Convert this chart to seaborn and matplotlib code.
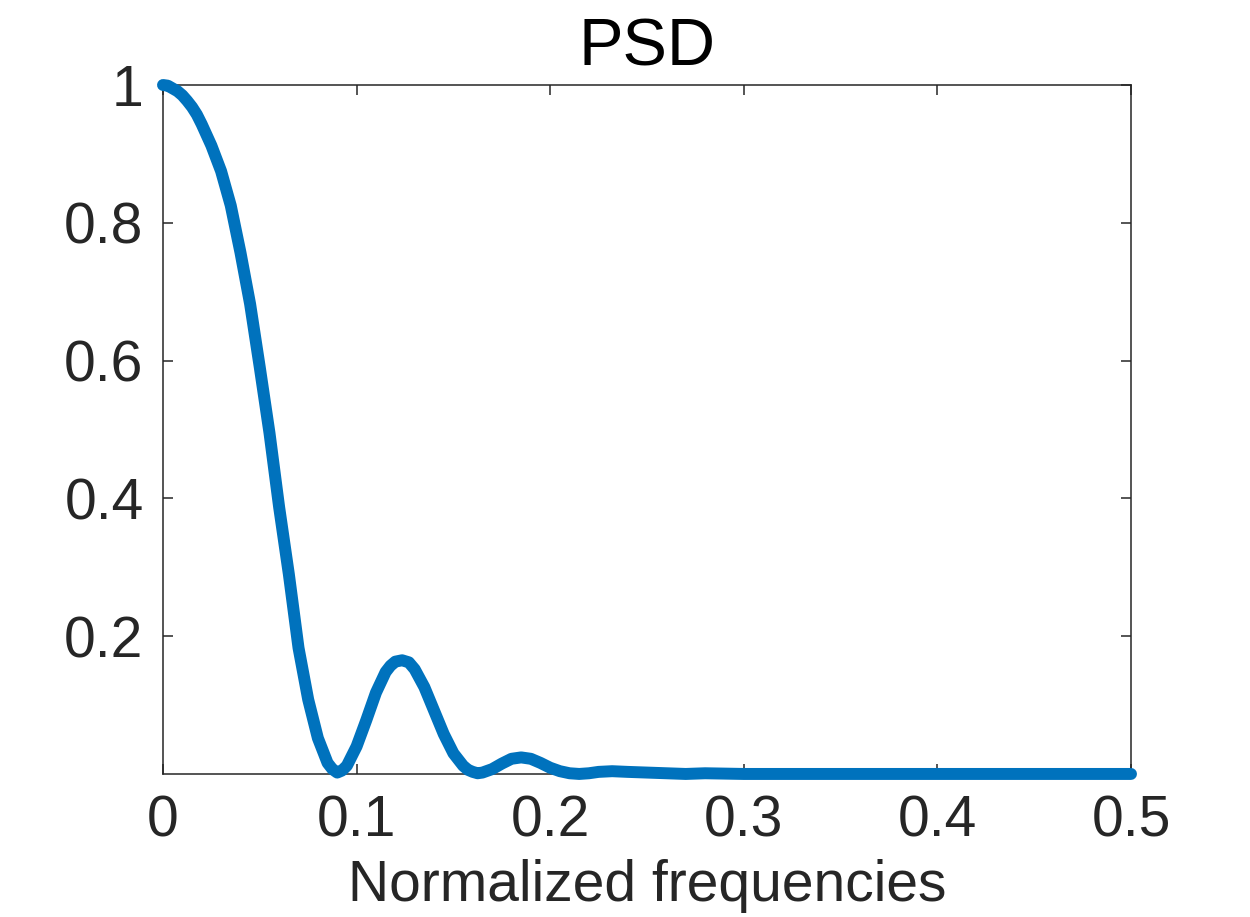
import numpy as np
import pandas as pd
import seaborn as sns
import matplotlib
matplotlib.use("Agg")
import matplotlib.pyplot as plt

# values
freq = [0.000, 0.0025, 0.005, 0.0075, 0.010, 0.0125, 0.015, 0.0175, 0.020, 0.025,
        0.030, 0.035, 0.040, 0.045, 0.050, 0.055, 0.060, 0.065, 0.070, 0.075,
        0.080, 0.085, 0.0875, 0.090, 0.0925, 0.095, 0.100, 0.105, 0.110, 0.115,
        0.1175, 0.120, 0.1235, 0.127, 0.130, 0.135, 0.140, 0.145, 0.150, 0.155,
        0.1575, 0.160, 0.1625, 0.165, 0.170, 0.175, 0.180, 0.185, 0.190, 0.195,
        0.200, 0.205, 0.210, 0.215, 0.220, 0.225, 0.232, 0.240, 0.250, 0.260,
        0.270, 0.280, 0.300, 0.350, 0.400, 0.450, 0.500]
psd = [1.000, 0.999, 0.995, 0.991, 0.985, 0.977, 0.968, 0.957, 0.943, 0.912,
       0.875, 0.825, 0.757, 0.682, 0.590, 0.495, 0.387, 0.290, 0.183, 0.108,
       0.052, 0.016, 0.007, 0.002, 0.005, 0.012, 0.040, 0.078, 0.118, 0.148,
       0.157, 0.163, 0.165, 0.162, 0.152, 0.126, 0.092, 0.058, 0.030, 0.012,
       0.006, 0.003, 0.001, 0.002, 0.007, 0.015, 0.022, 0.024, 0.022, 0.016,
       0.009, 0.004, 0.001, 0.000, 0.001, 0.003, 0.004, 0.003, 0.002, 0.001,
       0.000, 0.001, 0.000, 0.000, 0.000, 0.000, 0.000]

xticks = [0, 0.1, 0.2, 0.3, 0.4, 0.5]
xticklabels = ["0", "0.1", "0.2", "0.3", "0.4", "0.5"]
yticks = [0.2, 0.4, 0.6, 0.8, 1.0]
yticklabels = ["0.2", "0.4", "0.6", "0.8", "1"]

df = pd.DataFrame({"freq": freq, "psd": psd})

sns.set_style("white")
plt.rcParams['font.family'] = ['Liberation Sans', 'DejaVu Sans']

fig = plt.figure(figsize=(12.5, 9.17), dpi=100)
ax = fig.add_axes([0.1304, 0.156, 0.7744, 0.7513])

sns.lineplot(data=df, x="freq", y="psd", ax=ax, color="#0072BD",
             linewidth=8.6, sort=False, clip_on=False, zorder=3)
ax.lines[0].set_solid_joinstyle("round")

ax.set_xlim(0, 0.5)
ax.set_ylim(0, 1)
ax.set_xticks(xticks)
ax.set_xticklabels(xticklabels)
ax.set_yticks(yticks)
ax.set_yticklabels(yticklabels)

for s in ax.spines.values():
    s.set_visible(True)
    s.set_color("#262626")
    s.set_linewidth(1.1)

ax.tick_params(axis="both", which="both", direction="in", length=7, width=1.1,
               color="#262626", labelcolor="#262626", labelsize=41,
               top=True, right=True, bottom=True, left=True)
ax.tick_params(axis="x", pad=15)
ax.tick_params(axis="y", pad=14)

ax.set_xlabel("Normalized frequencies", fontsize=41, color="#262626", labelpad=7)
ax.set_ylabel("")
ax.set_title("PSD", fontsize=48, color="black", pad=14)

fig.savefig("out.png", dpi=100)
